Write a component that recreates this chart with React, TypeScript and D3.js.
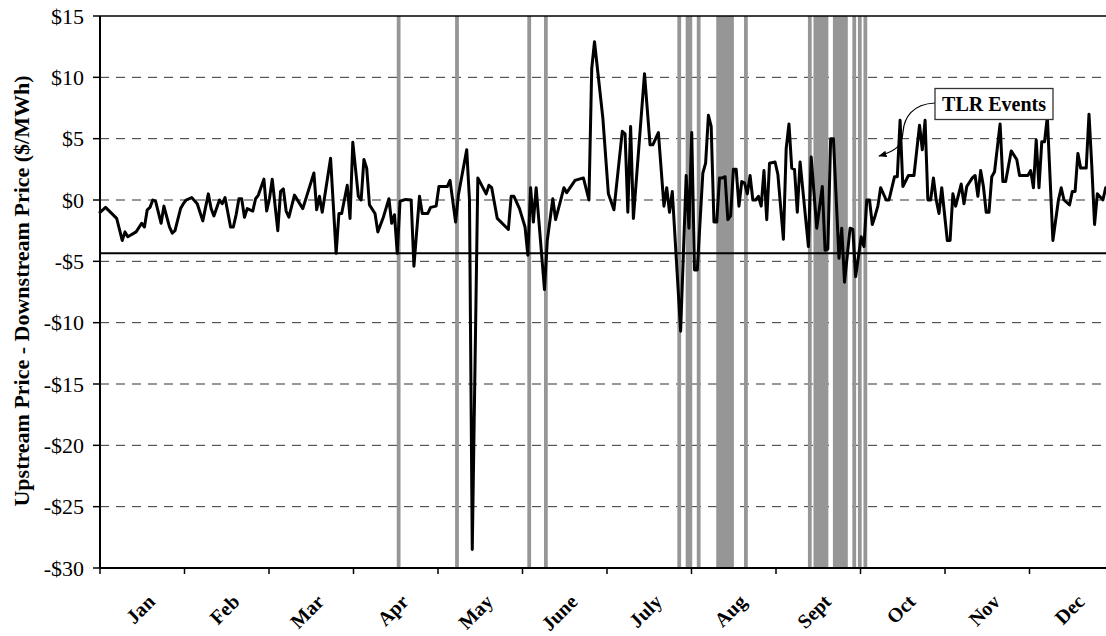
import React from "react";
import * as d3 from "d3";

// ---------- data ----------
const months = ["Jan", "Feb", "Mar", "Apr", "May", "June", "July", "Aug", "Sept", "Oct", "Nov", "Dec"];
const yTicks = [15, 10, 5, 0, -5, -10, -15, -20, -25, -30];
const gridValues = [10, 5, 0, -5, -10, -15, -20, -25];
const referenceLevel = -4.35;
const annotationLabel = "TLR Events";

// day of year (0-based) and the upstream-downstream price difference ($/MWh)
const priceDay = [
  0, 2, 6, 8, 9, 10, 13, 15, 16, 17, 18, 19, 20, 22, 23, 25, 26, 27, 29, 30,
  31, 33, 35, 37, 39, 40, 41, 43, 44, 45, 47, 48, 49, 50, 51, 52, 53, 55, 56, 57,
  59, 60, 61, 62, 64, 65, 66, 67, 68, 70, 73, 77, 78, 79, 80, 83, 85, 86, 87, 89,
  90, 91, 93, 94, 95, 96, 97, 99, 100, 102, 104, 105, 106, 107, 108, 110, 112, 113, 115, 116,
  118, 119, 121, 122, 125, 126, 128, 129, 132, 133, 134, 136, 139, 140, 141, 143, 147, 148, 149, 151,
  153, 154, 155, 156, 157, 160, 161, 163, 164, 167, 168, 171, 174, 176, 177, 178, 181, 183, 185, 188,
  189, 190, 191, 192, 196, 198, 199, 201, 203, 204, 205, 206, 209, 211, 212, 213, 214, 215, 217, 218,
  219, 220, 221, 222, 223, 224, 225, 226, 227, 228, 229, 230, 231, 232, 233, 234, 235, 236, 237, 238,
  239, 240, 241, 243, 244, 246, 247, 248, 249, 250, 251, 252, 255, 256, 258, 260, 261, 262, 263, 264,
  266, 267, 268, 270, 271, 272, 274, 275, 276, 277, 278, 279, 280, 281, 283, 284, 286, 287, 288, 289,
  291, 293, 295, 296, 297, 298, 299, 300, 301, 302, 303, 305, 306, 307, 308, 310, 311, 312, 314, 315,
  316, 317, 318, 319, 320, 321, 322, 324, 325, 326, 328, 330, 331, 334, 335, 336, 337, 338, 339, 340,
  341, 343, 345, 346, 347, 349, 350, 351, 352, 353, 355, 356, 357, 358, 359, 361, 362, 364,
];
const priceDiff = [
  -1.0, -0.6, -1.5, -3.3, -2.6, -3.0, -2.6, -1.9, -2.2, -0.8, -0.6, 0, -0.1, -1.9, -0.5, -2.2, -2.7, -2.5, -0.7, -0.3,
  0, 0.2, -0.3, -1.7, 0.5, -0.7, -1.3, 0, -0.3, 0.2, -2.2, -2.2, -1.2, 0.1, 0.1, -1.4, -0.7, -0.9, 0.1, 0.4,
  1.7, -0.9, 0.1, 1.7, -2.5, 0.7, 0.9, -0.9, -1.4, 0.4, -0.7, 2.2, -0.8, 0.3, -1.0, 3.4, -4.35, -1.1, -1.1, 1.2,
  -1.5, 4.7, 0.3, 0, 3.3, 2.6, -0.4, -1.1, -2.6, -1.4, 0.1, -1.9, -1.2, -4.35, -0.1, 0.05, 0, -5.4, 0.3, -1.1,
  -1.1, -0.6, -0.5, 1.1, 1.1, 1.6, -1.8, 0.4, 4.1, 0, -28.5, 1.8, 0.5, 1.2, 1.0, -1.5, -2.4, 0.3, 0.3, -0.7,
  -2.2, -4.5, 1.0, -1.8, 1.0, -7.3, -3.3, 0.1, -1.6, 1.0, 0.6, 1.6, 1.8, 0, 10.7, 12.9, 6.7, 0.5, -0.8, 5.6,
  5.4, -1.0, 6.0, -1.5, 10.3, 4.5, 4.5, 5.5, -0.5, 1.0, -1.0, 0.7, -10.7, 2.0, -2.3, 5.5, -5.7, -5.7, 2.2, 3.0,
  6.9, 6.0, -1.8, -1.8, 1.8, 1.8, 1.9, -1.6, -1.3, 2.5, 2.5, -0.5, 1.5, 1.4, 0.5, 2.0, 0, 0, 0.3, -0.5,
  2.4, -1.6, 3.0, 3.1, 2.1, -3.2, 4.2, 6.2, 2.6, 2.5, -1.0, 3.1, -3.8, 3.5, -2.3, 1.1, -4.1, -4.0, 5.0, 5.0,
  -4.75, -2.3, -6.7, -2.3, -2.4, -6.25, -3.0, -3.8, 0, 0, -2.0, -1.3, -0.5, 1.0, 0, 0, 1.9, 1.9, 6.5, 1.1,
  2.0, 2.0, 6.1, 4.1, 6.5, 0, 0, 1.8, 0, -1.1, 1.0, -3.3, -3.3, 0.5, -0.5, 1.3, -0.3, 1.1, 1.8, 2.0,
  0.3, 2.4, 1.1, -1.0, -1.0, 1.9, 2.3, 6.2, 1.5, 1.5, 4.0, 3.3, 2.0, 2.0, 2.4, 1.0, 4.9, 1.0, 4.75, 4.75,
  6.8, -3.3, 0, 1.0, 0, -0.4, 0.7, 0.7, 3.8, 2.6, 2.6, 7.0, 2.8, -2.0, 0.5, 0, 1.0, 0.8,
];

// TLR event day ranges (inclusive)
const tlrStart = [107, 128, 154, 160, 208, 211, 215, 222, 232, 255, 257, 264, 271, 273, 275];
const tlrEnd = [107, 128, 154, 160, 208, 212, 215, 227, 232, 255, 261, 268, 271, 273, 275];

// ---------- layout ----------
const W = 1106;
const H = 636;
const left = 100;
const right = 1114;
const top = 16;
const bottom = 568;
const FONT = "'Times New Roman', 'Liberation Serif', serif";

export default function App() {
  const x = d3.scaleLinear().domain([0, 365]).range([left, right]);
  const y = d3.scaleLinear().domain([-30, 15]).range([bottom, top]);
  const pts: [number, number][] = priceDay.map((d, i) => [d, priceDiff[i]]);
  const line = d3
    .line<[number, number]>()
    .x((p) => x(p[0]))
    .y((p) => y(p[1]));
  const monthW = (right - left) / 12;
  const monthTicks = d3.range(13).map((i) => left + i * monthW);

  return (
    <svg
      width={W}
      height={H}
      style={{ position: "absolute", left: 0, top: 0, background: "#fff" }}
    >
      <defs>
        <marker id="arrow" viewBox="0 0 10 10" refX="9" refY="5" markerWidth="7" markerHeight="7" orient="auto-start-reverse">
          <path d="M0,1 L10,5 L0,9 z" fill="#000" />
        </marker>
      </defs>
      {/* gridlines */}
      {gridValues.map((v) => (
        <line key={"g" + v} x1={left} x2={right} y1={y(v)} y2={y(v)} stroke="#333" strokeWidth={1} strokeDasharray="9,7" />
      ))}
      {/* TLR bars */}
      {tlrStart.map((s, i) => (
        <rect
          key={"b" + i}
          x={x(s) - 0.5}
          y={top}
          width={x(tlrEnd[i] + 1) - x(s) + 1}
          height={bottom - top}
          fill="#969696"
        />
      ))}
      {/* reference level */}
      <line x1={left} x2={right} y1={y(referenceLevel)} y2={y(referenceLevel)} stroke="#000" strokeWidth={2} />
      {/* top border */}
      <line x1={left} x2={right} y1={top} y2={top} stroke="#000" strokeWidth={1.5} />
      {/* series */}
      <path d={line(pts) || ""} fill="none" stroke="#000" strokeWidth={3} strokeLinejoin="round" strokeLinecap="round" />
      {/* axes */}
      <line x1={left} x2={left} y1={top} y2={bottom} stroke="#000" strokeWidth={2} />
      <line x1={left} x2={right} y1={bottom} y2={bottom} stroke="#000" strokeWidth={2} />
      {yTicks.map((v) => (
        <g key={"y" + v}>
          <line x1={left - 7} x2={left} y1={y(v)} y2={y(v)} stroke="#000" strokeWidth={1.5} />
          <text x={84} y={y(v)} dy="0.35em" textAnchor="end" fontFamily={FONT} fontSize={22} fill="#000">
            {(v < 0 ? "-$" : "$") + Math.abs(v)}
          </text>
        </g>
      ))}
      {monthTicks.map((t, i) => (
        <line key={"t" + i} x1={t} x2={t} y1={bottom} y2={bottom + 6} stroke="#000" strokeWidth={1.5} />
      ))}
      {months.map((m, i) => (
        <text
          key={m}
          transform={`translate(${left + (i + 0.5) * monthW + 14},603) rotate(-45)`}
          textAnchor="end"
          fontFamily={FONT}
          fontWeight="bold"
          fontSize={20}
          fill="#000"
        >
          {m}
        </text>
      ))}
      {/* y title */}
      <text
        transform="translate(29,291) rotate(-90)"
        textAnchor="middle"
        fontFamily={FONT}
        fontWeight="bold"
        fontSize={22}
        fill="#000"
      >
        Upstream Price - Downstream Price ($/MWh)
      </text>
      {/* annotation */}
      <path d="M935,103 C912,104 904,118 903,132 C902,146 896,151 879,156" fill="none" stroke="#000" strokeWidth={1.2} markerEnd="url(#arrow)" />
      <rect x={935} y={88.5} width={118} height={31} fill="#fff" stroke="#333" strokeWidth={1.3} />
      <text x={994} y={111} textAnchor="middle" fontFamily={FONT} fontWeight="bold" fontSize={20} fill="#000">
        {annotationLabel}
      </text>
    </svg>
  );
}
